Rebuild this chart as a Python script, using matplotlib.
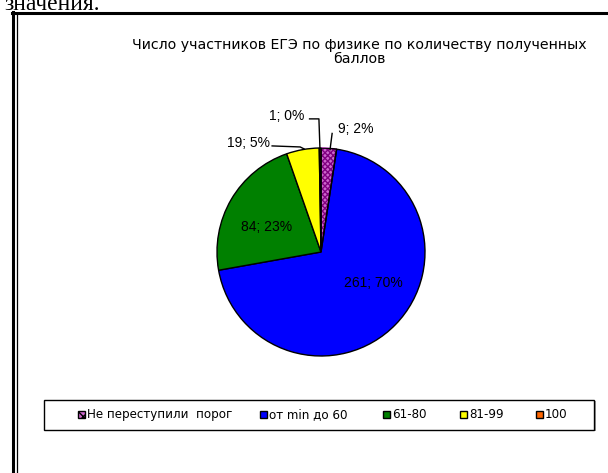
import matplotlib
matplotlib.use("Agg")
import matplotlib.pyplot as plt
from matplotlib.patches import Rectangle, Wedge
from matplotlib.lines import Line2D

plt.rcParams['font.family'] = ['Liberation Sans', 'DejaVu Sans']

title = "Число участников ЕГЭ по физике по количеству полученных\nбаллов"
categories = ["Не переступили  порог", "от min до 60", "61-80", "81-99", "100"]
values = [9, 261, 84, 19, 1]
percents = [2, 70, 23, 5, 0]
colors = ["#cc66cc", "#0000ff", "#008000", "#ffff00", "#ff6600"]

W, H = 608, 473
fig = plt.figure(figsize=(W / 100, H / 100), dpi=100)

# background axes in pixel coords
bg = fig.add_axes([0, 0, 1, 1])
bg.set_xlim(0, W)
bg.set_ylim(H, 0)
bg.axis('off')

# document text cut off at top
bg.text(100, 10, "значения.", ha='right', va='baseline', fontsize=17,
        family='Liberation Serif', color='black')
# frame
bg.add_line(Line2D([12.5, 12.5], [12, H], color='black', lw=2.2))
bg.add_line(Line2D([11.5, W], [13, 13], color='black', lw=2.2))
bg.add_line(Line2D([16.5, 16.5], [15.5, H], color='black', lw=0.9))

# title
bg.text(359, 52, title, ha='center', va='center', fontsize=10.2,
        family=['DejaVu Sans'], linespacing=0.95, color='black')

# pie
cx, cy, r = 321, 252, 104
ax = fig.add_axes([(cx - r) / W, (H - cy - r) / H, 2 * r / W, 2 * r / H])
wedges, _ = ax.pie(values, colors=colors, startangle=90, counterclock=False,
                   wedgeprops=dict(edgecolor='black', linewidth=1.0))
wedges[0].set_hatch('xxxxxx')
wedges[0].set_edgecolor('#800080')
w0 = wedges[0]
ax.add_patch(Wedge(w0.center, w0.r, w0.theta1, w0.theta2, fill=False,
                   edgecolor='black', linewidth=1.0))
ax.set_xlim(-1, 1)
ax.set_ylim(-1, 1)
ax.set_aspect('auto')

def lab(i):
    return f"{values[i]}; {percents[i]}%"

fs = 10
# inside labels
ax.text(-0.52, 0.24, lab(2), ha='center', va='center', fontsize=fs)
ax.text(0.50, -0.30, lab(1), ha='center', va='center', fontsize=fs)
# outside labels with leader lines
ax.text(0.33, 1.18, lab(0), ha='center', va='center', fontsize=fs)
ax.plot([0.087, 0.107], [0.985, 1.14], color='black', lw=1.0, clip_on=False)
ax.text(-0.33, 1.31, lab(4), ha='center', va='center', fontsize=fs)
ax.plot([-0.11, -0.02, -0.01], [1.28, 1.28, 0.99], color='black', lw=1.0,
        clip_on=False)
ax.text(-0.70, 1.05, lab(3), ha='center', va='center', fontsize=fs)
ax.plot([-0.47, -0.20, -0.16], [1.02, 1.01, 0.99], color='black', lw=1.0,
        clip_on=False)

# legend box
bg.add_patch(Rectangle((45.5, 401), 550, 30, facecolor='#a0a0a0',
                       edgecolor='none'))
bg.add_patch(Rectangle((44, 399.5), 550, 30, facecolor='white',
                       edgecolor='black', lw=1.0))
xs = [78, 260, 383, 460, 536]
for x, c, t in zip(xs, colors, categories):
    rect = Rectangle((x, 411), 7, 7, facecolor=c, edgecolor='black', lw=1.0)
    if c == colors[0]:
        rect.set_hatch('xxx')
    bg.add_patch(rect)
    bg.text(x + 9, 414.5, t, ha='left', va='center', fontsize=8.6,
            family=['DejaVu Sans'])

fig.savefig("out.png", dpi=100)
